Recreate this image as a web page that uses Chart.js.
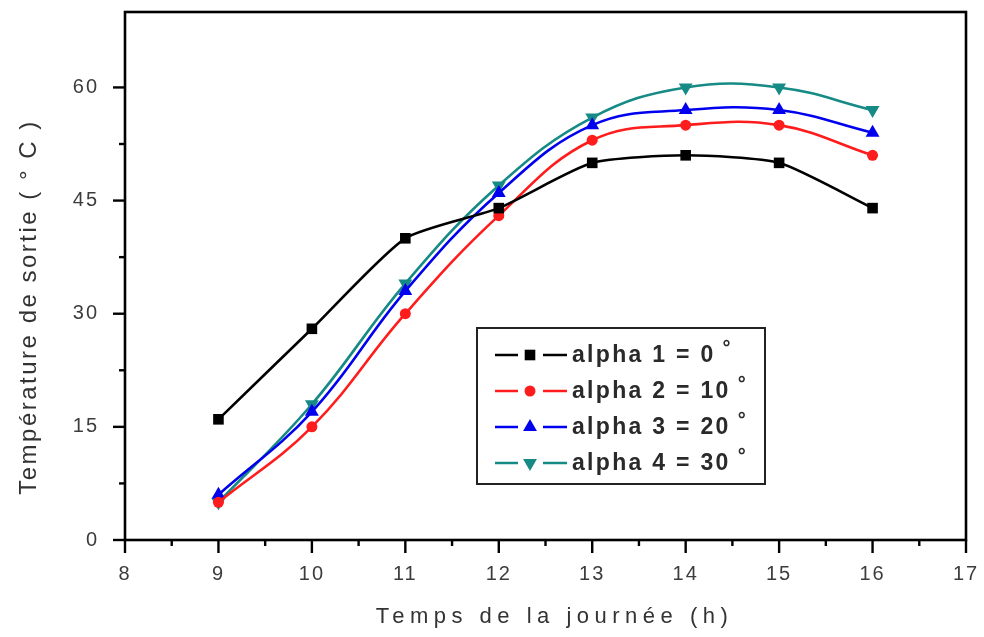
<!DOCTYPE html>
<html><head><meta charset="utf-8">
<script src="https://cdn.jsdelivr.net/npm/chart.js@4.4.1/dist/chart.umd.min.js"></script>
<style>html,body{margin:0;padding:0;background:#fff;}#wrap{width:984px;height:637px;}</style>
</head><body><div id="wrap"><canvas id="c" width="984" height="637"></canvas></div>
<script>
// ---- data ----
const hours  = [9, 10, 11, 12, 13, 14, 15, 16];
const alpha1 = [16, 28, 40, 44, 50, 51, 50, 44];
const alpha2 = [5, 15, 30, 43, 53, 55, 55, 51];
const alpha3 = [6, 17, 33, 46, 55, 57, 57, 54];
const alpha4 = [5, 18, 34, 47, 56, 60, 60, 57];
const seriesLabels = ['alpha 1 = 0', 'alpha 2 = 10', 'alpha 3 = 20', 'alpha 4 = 30'];
const xTickLabels = [8, 9, 10, 11, 12, 13, 14, 15, 16, 17];
const yTickLabels = [0, 15, 30, 45, 60];
const xTitle = 'Temps de la journée (h)';
const yTitle = 'Température de sortie ( ° C )';

const FONT = "'Liberation Sans', Arial, sans-serif";
const pts = ys => hours.map((h, i) => ({x: h, y: ys[i]}));

function ds(label, ys, color, style, radius, rotation, tension) {
  return {
    label, data: pts(ys), borderColor: color, backgroundColor: color,
    pointBackgroundColor: color, pointBorderColor: color, pointBorderWidth: 0,
    pointStyle: style, pointRadius: radius, pointRotation: rotation,
    pointHoverRadius: radius, borderWidth: 2.6, tension: tension, fill: false
  };
}

const datasets = [
  ds(seriesLabels[0], alpha1, '#000000', 'rect', 7.5, 0, 0.2),
  ds(seriesLabels[1], alpha2, '#ff1c1c', 'circle', 5.5, 0, 0.4),
  ds(seriesLabels[2], alpha3, '#0000ee', 'triangle', 8, 0, 0.4),
  ds(seriesLabels[3], alpha4, '#168a84', 'triangle', 8, 180, 0.4)
];

const noPad = s => { s.paddingTop = 0; s.paddingBottom = 0; s.paddingLeft = 0; s.paddingRight = 0; };

const framePlugin = {
  id: 'frame',
  beforeDraw(chart) { chart.ctx.letterSpacing = '2px'; },
  afterDraw(chart) {
    const ctx = chart.ctx, a = chart.chartArea;
    const xs = chart.scales.x, ysc = chart.scales.y;
    ctx.save();
    ctx.strokeStyle = '#000';
    ctx.lineWidth = 2.6;
    ctx.strokeRect(a.left, a.top, a.right - a.left, a.bottom - a.top);
    ctx.lineWidth = 2.4;
    xs.ticks.forEach(t => {
      const p = xs.getPixelForValue(t.value);
      const major = xTickLabels.includes(t.value);
      ctx.beginPath(); ctx.moveTo(p, a.bottom); ctx.lineTo(p, a.bottom + (major ? 13 : 6)); ctx.stroke();
    });
    ysc.ticks.forEach(t => {
      if (t.value > 68) return;
      const p = ysc.getPixelForValue(t.value);
      const major = yTickLabels.includes(t.value);
      ctx.beginPath(); ctx.moveTo(a.left, p); ctx.lineTo(a.left - (major ? 12 : 6), p); ctx.stroke();
    });

    // axis titles
    ctx.fillStyle = '#333';
    ctx.textAlign = 'center';
    ctx.textBaseline = 'middle';
    ctx.font = '22px ' + FONT;
    ctx.letterSpacing = '5.5px';
    ctx.fillText(xTitle, (a.left + a.right) / 2 + 9, 617);
    ctx.save();
    ctx.translate(29, 307);
    ctx.rotate(-Math.PI / 2);
    ctx.font = '24px ' + FONT;
    ctx.letterSpacing = '2.5px';
    ctx.fillText(yTitle, 0, 0);
    ctx.restore();
    ctx.letterSpacing = '0px';

    // legend
    const bx = a.left + 352, by = a.top + 316, bw = 288, bh = 156;
    ctx.fillStyle = '#fff';
    ctx.fillRect(bx, by, bw, bh);
    ctx.lineWidth = 2;
    ctx.strokeStyle = '#222';
    ctx.strokeRect(bx, by, bw, bh);
    chart.data.datasets.forEach((d, i) => {
      const y = by + 27 + i * 36;
      ctx.strokeStyle = d.borderColor;
      ctx.lineWidth = 2.6;
      ctx.beginPath();
      ctx.moveTo(bx + 18, y); ctx.lineTo(bx + 41, y);
      ctx.moveTo(bx + 66, y); ctx.lineTo(bx + 90, y);
      ctx.stroke();
      ctx.fillStyle = d.borderColor;
      Chart.helpers.drawPoint(ctx, {pointStyle: d.pointStyle, radius: d.pointRadius, rotation: d.pointRotation, borderWidth: 0}, bx + 53, y);
      ctx.fillStyle = '#2a2a2a';
      ctx.textAlign = 'left';
      ctx.textBaseline = 'middle';
      ctx.font = 'bold 23px ' + FONT;
      ctx.letterSpacing = '2.3px';
      ctx.fillText(d.label, bx + 95, y + 1);
      const w = ctx.measureText(d.label).width;
      ctx.font = 'bold 20px ' + FONT;
      ctx.fillText('°', bx + 95 + w + 7, y - 7);
      ctx.letterSpacing = '0px';
    });
    ctx.restore();
  }
};

new Chart(document.getElementById('c'), {
  type: 'line',
  data: { datasets },
  options: {
    responsive: false,
    animation: false,
    layout: { padding: { left: 0, right: 18, top: 12, bottom: 0 } },
    plugins: { legend: { display: false }, tooltip: { enabled: false } },
    scales: {
      x: {
        type: 'linear', min: 8, max: 17,
        grid: { display: false, drawTicks: false },
        border: { display: false },
        ticks: {
          stepSize: 0.5, autoSkip: false, maxRotation: 0, padding: 22,
          color: '#3c3c3c', font: { family: FONT, size: 20 },
          callback: v => xTickLabels.includes(v) ? String(v) : ''
        },
        afterFit: s => { s.height = 97; noPad(s); }
      },
      y: {
        type: 'linear', min: 0, max: 70,
        grid: { display: false, drawTicks: false },
        border: { display: false },
        ticks: {
          stepSize: 7.5, autoSkip: false, padding: 26,
          color: '#3c3c3c', font: { family: FONT, size: 20 },
          callback: v => yTickLabels.includes(v) ? String(v) : ''
        },
        afterFit: s => { s.width = 125; noPad(s); }
      }
    }
  },
  plugins: [framePlugin]
});
</script>
</body></html>
